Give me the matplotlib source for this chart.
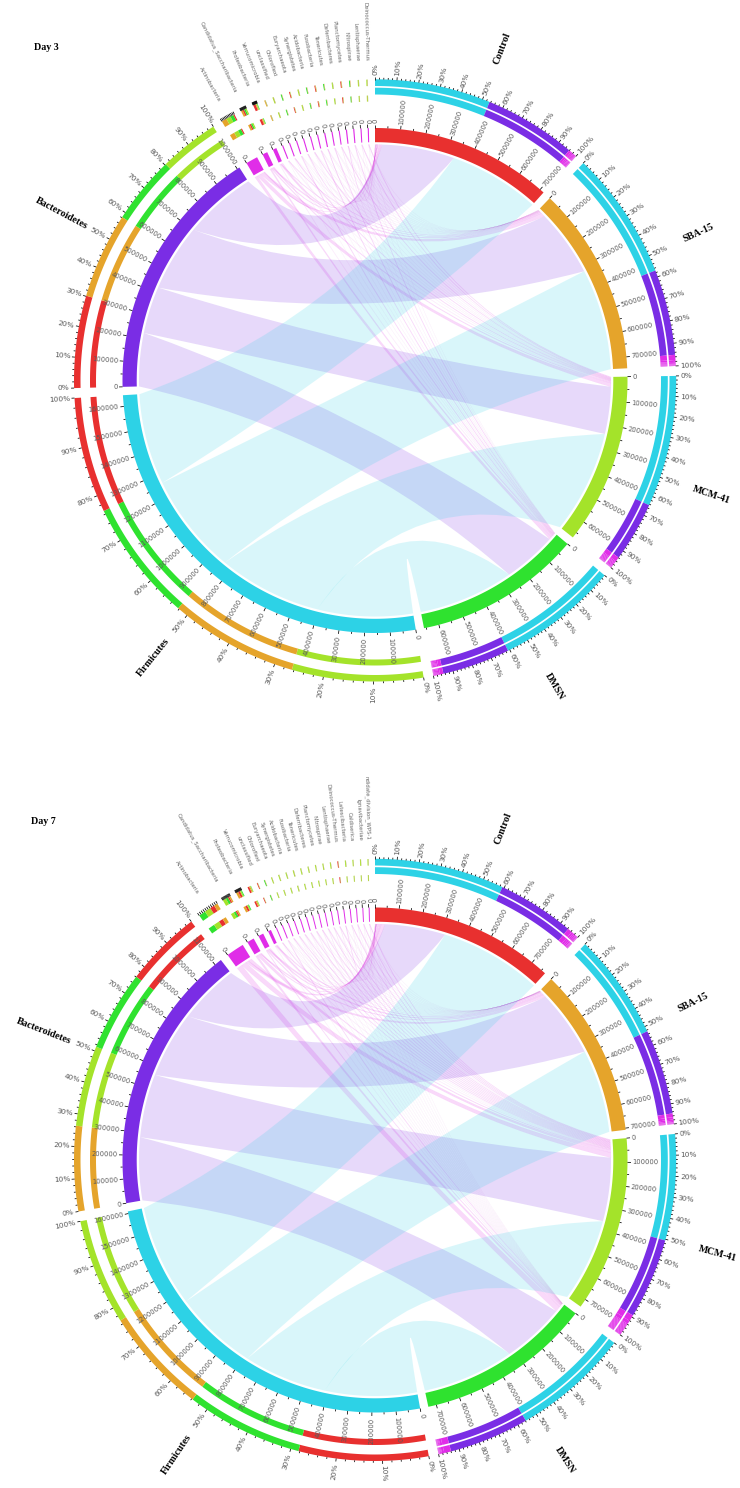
import numpy as np
import matplotlib
matplotlib.use("Agg")
import matplotlib.pyplot as plt
from matplotlib.path import Path
from matplotlib.patches import PathPatch

SAMPLES = ["Control", "SBA-15", "MCM-41", "DMSN"]
SAMPLE_COLORS = ["#e8302f", "#e5a42b", "#a4e32a", "#2fe22f"]

D3_PHYLA = ["Firmicutes", "Bacteroidetes", "Actinobacteria", "Candidatus_Saccharibacteria",
            "Proteobacteria", "Verrucomicrobia", "unclassified", "Chloroflexi", "Euryarchaeota",
            "Synergistetes", "Acidobacteria", "Fusobacteria", "Tenericutes", "Deferribacteres",
            "Planctomycetes", "Nitrospirae", "Lentisphaerae", "Deinococcus-Thermus"]
D3_CONTROL = [383000, 305000, 4000, 5000, 8000, 600, 500, 300, 2800, 300, 400, 2800, 300, 300, 3000, 400, 300, 400]
D3_SBA15 = [425000, 283000, 17000, 6000, 3000, 2800, 500, 400, 800, 600, 600, 1400, 500, 500, 900, 500, 500, 500]
D3_MCM41 = [434000, 198000, 15000, 4000, 2000, 800, 3200, 500, 500, 3200, 500, 300, 700, 3000, 500, 600, 3200, 3200]
D3_DMSN = [402000, 224000, 11000, 5000, 2000, 400, 300, 3200, 300, 300, 3000, 300, 3000, 500, 300, 3000, 300, 300]

D7_PHYLA = ["Firmicutes", "Bacteroidetes", "Actinobacteria", "Candidatus_Saccharibacteria",
            "Proteobacteria", "Verrucomicrobia", "unclassified", "Chloroflexi", "Euryarchaeota",
            "Synergistetes", "Acidobacteria", "Fusobacteria", "Tenericutes", "Deferribacteres",
            "Planctomycetes", "Nitrospirae", "Lentisphaerae", "Deinococcus-Thermus",
            "Latescibacteria", "Caldiserica", "Ignavibacteriae", "ndidate_division_WPS-1"]
D7_CONTROL = [455000, 270000, 16000, 5000, 7000, 6000, 2800, 300, 300, 300, 300, 400, 300, 300, 300, 300, 300, 3000, 300, 300, 300, 300]
D7_SBA15 = [372000, 298000, 13000, 5000, 8000, 4000, 600, 400, 400, 500, 400, 500, 400, 400, 400, 400, 500, 500, 400, 400, 400, 400]
D7_MCM41 = [372000, 283000, 22000, 12000, 4000, 2000, 400, 600, 3000, 3000, 3000, 3000, 3000, 3000, 3000, 3000, 3000, 300, 3000, 3000, 3000, 3000]
D7_DMSN = [410000, 280000, 24000, 8000, 3000, 1000, 300, 3000, 300, 400, 500, 400, 400, 400, 300, 300, 300, 300, 400, 300, 300, 300]

CYAN, PURPLE, MAGENTA = "#2dd2e6", "#7a2de5", "#e02de8"
GRAY = "#5a5a5a"
R_RIB, R_IN, R_OUT = 236.0, 238.3, 252.5
S_RINGS = [(286.0, 292.8), (294.5, 301.2)]
P_RINGS = [(279.0, 285.0), (294.5, 301.0)]
BIG_GAP = 1.9

fig = plt.figure(figsize=(7.4, 14.88), dpi=100)
ax = fig.add_axes([0, 0, 1, 1])
ax.set_xlim(0, 740)
ax.set_ylim(1488, 0)
ax.axis("off")


def pol(cx, cy, r, deg):
    a = np.radians(deg)
    return cx + r * np.sin(a), cy - r * np.cos(a)


def arc(cx, cy, r, a0, a1):
    n = max(2, int(abs(a1 - a0) * 2) + 2)
    t = np.linspace(a0, a1, n)
    return np.column_stack(pol(cx, cy, r, t))


def band(cx, cy, r0, r1, a0, a1, color, z=3):
    pts = np.vstack([arc(cx, cy, r1, a0, a1), arc(cx, cy, r0, a1, a0)])
    ax.fill(pts[:, 0], pts[:, 1], color=color, lw=0, zorder=z)


def control_pt(cx, cy, a, b):
    sep = (b - a) % 360
    if sep > 180:
        sep = 360 - sep
    mid = a + ((b - a + 180) % 360 - 180) / 2
    return pol(cx, cy, 125 * np.cos(np.radians(sep / 2)), mid)


def ribbon(cx, cy, a0, a1, b0, b1, color, alpha, thin):
    verts = [tuple(p) for p in arc(cx, cy, R_RIB, a0, a1)]
    codes = [Path.MOVETO] + [Path.LINETO] * (len(verts) - 1)
    verts += [control_pt(cx, cy, a1, b0), pol(cx, cy, R_RIB, b0)]
    codes += [Path.CURVE3, Path.CURVE3]
    part = [tuple(p) for p in arc(cx, cy, R_RIB, b0, b1)][1:]
    verts += part
    codes += [Path.LINETO] * len(part)
    verts += [control_pt(cx, cy, b1, a0), pol(cx, cy, R_RIB, a0)]
    codes += [Path.CURVE3, Path.CURVE3]
    ax.add_patch(PathPatch(Path(verts, codes), facecolor=color, alpha=alpha,
                           edgecolor=color, lw=0.1 if thin else 0, zorder=1))


def radial_text(cx, cy, r, deg, s, size, color=GRAY, **kw):
    x, y = pol(cx, cy, r, deg)
    if deg % 360 < 180:
        rot, ha = 90 - deg, "left"
    else:
        rot, ha = 270 - deg, "right"
    ax.text(x, y, s, rotation=rot, rotation_mode="anchor", ha=ha, va="center",
            fontsize=size, color=color, zorder=6, **kw)


def tick(cx, cy, r0, r1, deg, lw=0.55):
    p0, p1 = pol(cx, cy, r0, deg), pol(cx, cy, r1, deg)
    ax.plot([p0[0], p1[0]], [p0[1], p1[1]], color="black", lw=lw, zorder=5, solid_capstyle="butt")


def circle(cx, cy, title, title_xy, phyla, sample_rows, small_gap):
    rows = np.array(sample_rows, dtype=float)          # samples x phyla
    n_s, n_p = rows.shape
    s_tot, p_tot = rows.sum(axis=1), rows.sum(axis=0)
    big_p = 2
    gaps = [BIG_GAP] * (n_s + big_p) + [small_gap] * (n_p - big_p)
    scale = (360 - sum(gaps)) / (s_tot.sum() + p_tot.sum())
    starts, pos = [], 0.0
    for v, g in zip(list(s_tot) + list(p_tot), gaps):
        starts.append(pos)
        pos += v * scale + g
    s_start, p_start = starts[:n_s], starts[n_s:]
    p_colors = [CYAN, PURPLE] + [MAGENTA] * (n_p - big_p)

    # ribbon ends: on each segment, partners run in reverse list order
    s_ends, p_ends = {}, {}
    for i in range(n_s):
        a = s_start[i]
        for j in range(n_p - 1, -1, -1):
            s_ends[i, j] = (a, a + rows[i, j] * scale)
            a += rows[i, j] * scale
    for j in range(n_p):
        a = p_start[j]
        for i in range(n_s - 1, -1, -1):
            p_ends[i, j] = (a, a + rows[i, j] * scale)
            a += rows[i, j] * scale
    for j in range(n_p - 1, -1, -1):
        for i in range(n_s):
            sa, sb = s_ends[i, j]
            pa, pb = p_ends[i, j]
            big = j < big_p
            wide = rows[i, j] > 2500
            ribbon(cx, cy, sa, sb, pa, pb, p_colors[j],
                   0.18 if big or wide else 0.1, not big)

    def segment(a0, total, color, parts, part_colors, rings, name, labelled, ring_tick_step):
        a1 = a0 + total * scale
        band(cx, cy, R_IN, R_OUT, a0, a1, color)
        order = np.argsort(-np.array(parts), kind="stable")
        for r0, r1 in rings:
            c = a0
            for k in order:
                d = parts[k] * scale
                if d > 0:
                    band(cx, cy, r0, r1, c, c + d, part_colors[k])
                c += d
        v = 0
        while v <= total:
            major = v % 100000 == 0
            if major or labelled:
                deg = a0 + v * scale
                tick(cx, cy, R_OUT, R_OUT + (3.5 if major else 2), deg)
                if major:
                    radial_text(cx, cy, R_OUT + 5, deg, f"{v}", 4.9)
            v += 50000
        if ring_tick_step:
            for p in range(0, 101, ring_tick_step):
                deg = a0 + p / 100 * (a1 - a0)
                m = p % 10 == 0
                tick(cx, cy, 301, 304 if m else 302.8, deg)
                if labelled and m:
                    radial_text(cx, cy, 305.5, deg, f"{p}%", 5.3)
        if name:
            radial_text_center(a0, a1, name)

    def radial_text_center(a0, a1, name):
        mid = (a0 + a1) / 2
        x, y = pol(cx, cy, 355, mid)
        rot = 90 - mid if mid < 180 else 270 - mid
        ax.text(x, y, name, rotation=rot, rotation_mode="anchor", ha="center", va="center",
                fontsize=7.2, fontweight="bold", family="Liberation Serif", color="black", zorder=6)

    for i in range(n_s):
        segment(s_start[i], s_tot[i], SAMPLE_COLORS[i], list(rows[i]), p_colors,
                S_RINGS, SAMPLES[i], True, 2)
    for j in range(n_p):
        big = j < big_p
        segment(p_start[j], p_tot[j], p_colors[j], list(rows[:, j]), SAMPLE_COLORS,
                P_RINGS, phyla[j] if big else None, big,
                2 if big else (10 if j < big_p + 3 else 0))
        if not big:
            mid = p_start[j] + p_tot[j] * scale / 2
            x, y = pol(cx, cy, 320, mid)
            ax.text(x, y, phyla[j], rotation=-90 - (mid - 360), rotation_mode="anchor",
                    ha="right", va="center", fontsize=3.9, color="#666666", zorder=6, clip_on=True)

    ax.text(title_xy[0], title_xy[1], title, fontsize=7.2, fontweight="bold",
            family="Liberation Serif", ha="left", va="center", color="black")


circle(375, 380.5, "Day 3", (34, 47), D3_PHYLA, [D3_CONTROL, D3_SBA15, D3_MCM41, D3_DMSN], 1.4)
circle(375, 1160, "Day 7", (31, 821), D7_PHYLA, [D7_CONTROL, D7_SBA15, D7_MCM41, D7_DMSN], 1.22)

fig.savefig("out.png", dpi=100)
